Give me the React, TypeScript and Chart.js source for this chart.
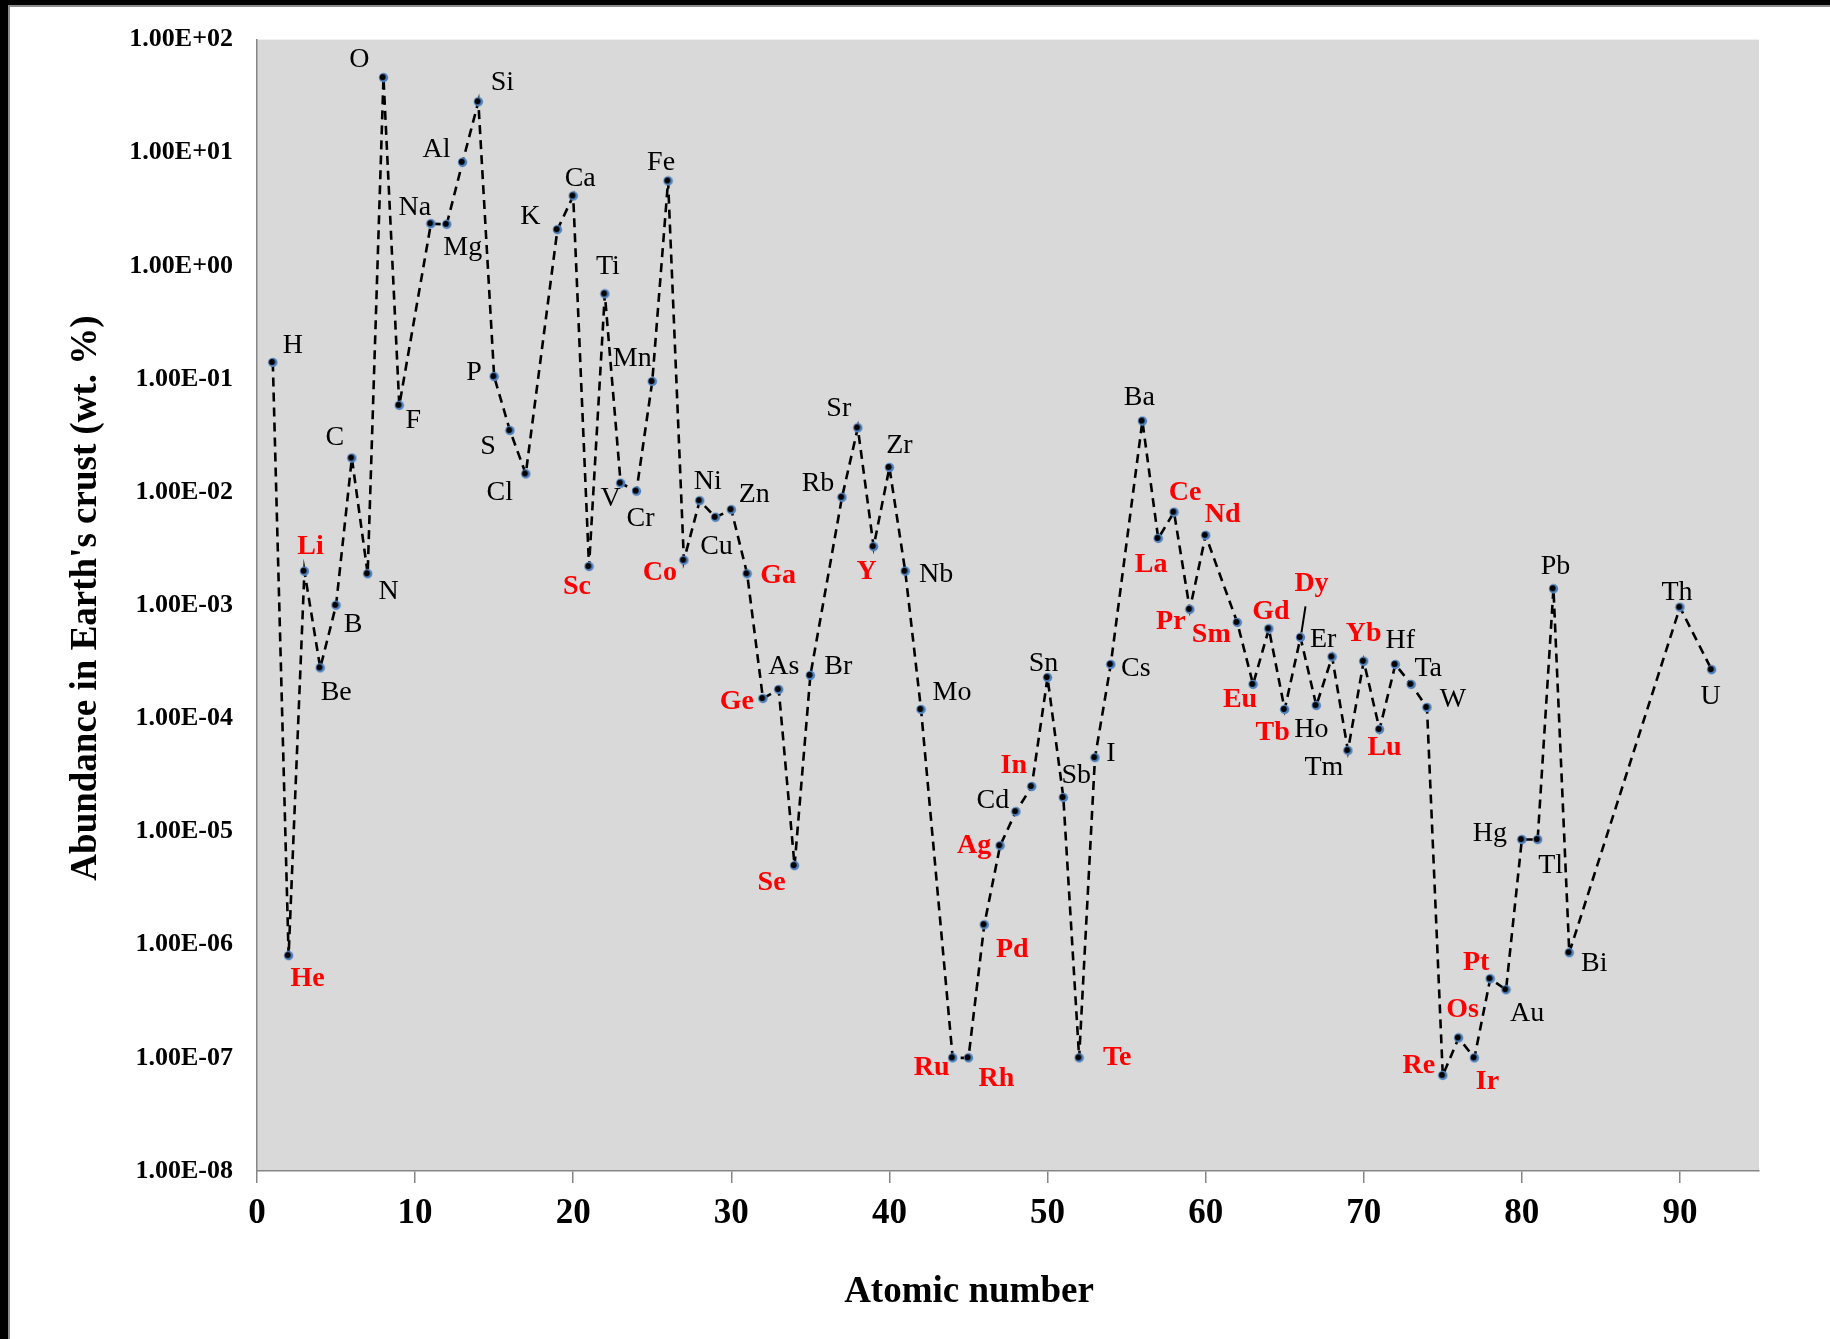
import React, { useEffect, useRef } from 'react';
import { Chart, registerables } from 'chart.js';

Chart.register(...registerables);

const SERIF = "'Liberation Serif', 'Times New Roman', Times, serif";

// ---- data ----
const symbols = ['H','He','Li','Be','B','C','N','O','F','Na','Mg','Al','Si','P','S','Cl','K','Ca','Sc','Ti','V','Cr','Mn','Fe','Co','Ni','Cu','Zn','Ga','Ge','As','Se','Br','Rb','Sr','Y','Zr','Nb','Mo','Ru','Rh','Pd','Ag','Cd','In','Sn','Sb','Te','I','Cs','Ba','La','Ce','Pr','Nd','Sm','Eu','Gd','Tb','Dy','Ho','Er','Tm','Yb','Lu','Hf','Ta','W','Re','Os','Ir','Pt','Au','Hg','Tl','Pb','Bi','Th','U'];

const atomicNumbers = [1,2,3,4,5,6,7,8,9,11,12,13,14,15,16,17,19,20,21,22,23,24,25,26,27,28,29,30,31,32,33,34,35,37,38,39,40,41,42,44,45,46,47,48,49,50,51,52,53,54,56,57,58,59,60,62,63,64,65,66,67,68,69,70,71,72,73,74,75,76,77,78,79,80,81,82,83,90,92];

const abundance = [0.14, 8e-7, 2e-3, 2.8e-4, 1e-3, 2e-2, 1.9e-3, 46.1, 5.85e-2, 2.36, 2.33, 8.23, 28.2, 0.105, 0.035, 0.0145, 2.09, 4.15, 2.2e-3, 0.565, 0.012, 0.0102, 0.095, 5.63, 2.5e-3, 8.4e-3, 6.0e-3, 7.0e-3, 1.9e-3, 1.5e-4, 1.8e-4, 5e-6, 2.4e-4, 9e-3, 3.7e-2, 3.3e-3, 1.65e-2, 2e-3, 1.2e-4, 1e-7, 1e-7, 1.5e-6, 7.5e-6, 1.5e-5, 2.5e-5, 2.3e-4, 2e-5, 1e-7, 4.5e-5, 3e-4, 4.25e-2, 3.9e-3, 6.65e-3, 9.2e-4, 4.15e-3, 7.05e-4, 2e-4, 6.2e-4, 1.2e-4, 5.2e-4, 1.3e-4, 3.5e-4, 5.2e-5, 3.2e-4, 8e-5, 3e-4, 2e-4, 1.25e-4, 7e-8, 1.5e-7, 1e-7, 5e-7, 4e-7, 8.5e-6, 8.5e-6, 1.4e-3, 8.5e-7, 9.6e-4, 2.7e-4];

const redElements = ['He','Li','Sc','Co','Ga','Ge','Se','Y','Ru','Rh','Pd','Ag','In','Te','La','Ce','Pr','Nd','Sm','Eu','Gd','Tb','Dy','Yb','Lu','Re','Os','Ir','Pt'];

// label placement relative to its point (px)
const labelDx = [20,19,6,16,17,-17,21,-24,14,-16,16,-26,24,-20,-22,-26,-27,7,-12,3,-10,4,-20,-7,-24,8,1,23,31,-26,5,-23,28,-24,-19,-7,10,31,31,-21,28,28,-26,-23,-18,-4,13,38,16,25,-3,-7,11,-19,17,-26,-13,2,-12,11,-5,-9,-24,0,5,5,17,26,-24,4,13,-14,21,-32,13,2,25,-3,-1];
const labelDy = [-17,23,-24,25,19,-20,18,-18,15,-16,23,-13,-19,-4,16,19,-13,-17,20,-27,15,27,-23,-18,12,-19,29,-15,2,3,-23,17,-9,-14,-19,25,-22,3,-17,10,21,25,0,-11,-21,-14,-22,0,-4,4,-23,26,-19,12,-21,12,15,-17,23,-54,24,-17,17,-28,18,-24,-16,-8,-10,-28,24,-16,24,-6,26,-22,11,-15,27];

const xTickValues = [0, 10, 20, 30, 40, 50, 60, 70, 80, 90];
const yTickValues = [1e-8, 1e-7, 1e-6, 1e-5, 1e-4, 1e-3, 1e-2, 1e-1, 1e0, 1e1, 1e2];
const yTickLabels = ['1.00E-08','1.00E-07','1.00E-06','1.00E-05','1.00E-04','1.00E-03','1.00E-02','1.00E-01','1.00E+00','1.00E+01','1.00E+02'];

const xTitle = 'Atomic number';
const yTitle = "Abundance in Earth's crust (wt. %)";

function makeMarker(): HTMLCanvasElement {
  const c = document.createElement('canvas');
  c.width = 11;
  c.height = 11;
  const g = c.getContext('2d')!;
  g.fillStyle = '#4F81BD';
  g.beginPath();
  g.arc(5.5, 5.5, 4.7, 0, Math.PI * 2);
  g.fill();
  g.fillStyle = '#000';
  g.beginPath();
  g.arc(4.7, 5.0, 3.0, 0, Math.PI * 2);
  g.fill();
  return c;
}

export default function App() {
  const ref = useRef<HTMLCanvasElement>(null);

  useEffect(() => {
    document.body.style.margin = '0';
    const canvas = ref.current;
    if (!canvas) return;
    const marker = makeMarker();

    const bgPlugin = {
      id: 'bgPlugin',
      beforeDraw(chart: any) {
        const { ctx, chartArea: a, width, height } = chart;
        ctx.save();
        ctx.fillStyle = '#ffffff';
        ctx.fillRect(0, 0, width, height);
        ctx.fillStyle = '#D9D9D9';
        ctx.fillRect(a.left, a.top, a.right - a.left, a.bottom - a.top);
        ctx.fillStyle = '#000';
        ctx.fillRect(0, 0, width, 5);
        ctx.fillRect(0, 0, 8, height);
        ctx.fillStyle = '#8c8c8c';
        ctx.fillRect(8, 5, width - 8, 2);
        ctx.fillRect(8, 5, 2, height - 5);
        ctx.restore();
      },
    };

    const labelPlugin = {
      id: 'labelPlugin',
      afterDatasetsDraw(chart: any) {
        const meta = chart.getDatasetMeta(0);
        const ctx = chart.ctx;
        ctx.save();
        ctx.textAlign = 'center';
        ctx.textBaseline = 'middle';
        symbols.forEach((s, i) => {
          const p = meta.data[i];
          if (!p) return;
          const red = redElements.includes(s);
          ctx.font = `${red ? 'bold ' : ''}28px ${SERIF}`;
          ctx.fillStyle = red ? '#FF0000' : '#000000';
          ctx.fillText(s, p.x + labelDx[i], p.y + labelDy[i]);
        });
        // leader line for Dy
        const iDy = symbols.indexOf('Dy');
        const d = meta.data[iDy];
        if (d) {
          ctx.strokeStyle = '#000';
          ctx.lineWidth = 2;
          ctx.setLineDash([]);
          ctx.beginPath();
          ctx.moveTo(d.x + 5, d.y - 31);
          ctx.lineTo(d.x + 1, d.y - 5);
          ctx.stroke();
        }
        // axis titles
        ctx.fillStyle = '#000';
        ctx.font = `bold 37px ${SERIF}`;
        ctx.textAlign = 'center';
        ctx.textBaseline = 'middle';
        ctx.fillText(xTitle, 969, 1292);
        ctx.translate(86, 598);
        ctx.rotate(-Math.PI / 2);
        ctx.fillText(yTitle, 0, 0);
        ctx.restore();
      },
    };

    const chart = new Chart(canvas, {
      type: 'scatter',
      data: {
        datasets: [
          {
            data: atomicNumbers.map((z, i) => ({ x: z, y: abundance[i] })),
            showLine: true,
            borderColor: '#000000',
            borderWidth: 2.6,
            borderDash: [9, 6],
            tension: 0,
            fill: false,
            pointStyle: marker as any,
            pointRadius: 5,
            pointHoverRadius: 5,
          } as any,
        ],
      },
      options: {
        responsive: false,
        animation: false,
        events: [],
        layout: { padding: { top: 36, right: 71, left: 0, bottom: 0 } },
        plugins: {
          legend: { display: false },
          tooltip: { enabled: false },
        },
        scales: {
          x: {
            type: 'linear',
            min: 0,
            max: 95,
            afterBuildTicks: (s: any) => {
              s.ticks = xTickValues.map((v) => ({ value: v }));
            },
            afterFit: (s: any) => {
              s.height = 168;
            },
            ticks: {
              autoSkip: false,
              maxRotation: 0,
              padding: 10,
              color: '#000',
              font: { family: SERIF, size: 35, weight: 'bold' },
              callback: (v: any) => String(v),
            },
            grid: {
              drawOnChartArea: false,
              drawTicks: true,
              tickLength: 12,
              color: '#868686',
              lineWidth: 1.5,
            },
            border: { display: true, color: '#868686', width: 1.5 },
          },
          y: {
            type: 'logarithmic',
            min: 1e-8,
            max: 1e2,
            afterBuildTicks: (s: any) => {
              s.ticks = yTickValues.map((v) => ({ value: v }));
            },
            afterFit: (s: any) => {
              s.width = 257;
            },
            ticks: {
              autoSkip: false,
              padding: 24,
              color: '#000',
              font: { family: SERIF, size: 26, weight: 'bold' },
              callback: (v: any) => {
                const i = yTickValues.findIndex(
                  (t) => Math.abs(Math.log10(t) - Math.log10(Number(v))) < 1e-6
                );
                return i >= 0 ? yTickLabels[i] : '';
              },
            },
            grid: { drawOnChartArea: false, drawTicks: false },
            border: { display: true, color: '#868686', width: 1.5 },
          },
        },
      } as any,
      plugins: [bgPlugin, labelPlugin],
    });

    return () => chart.destroy();
  }, []);

  return <canvas ref={ref} width={1830} height={1339} style={{ display: 'block' }} />;
}
